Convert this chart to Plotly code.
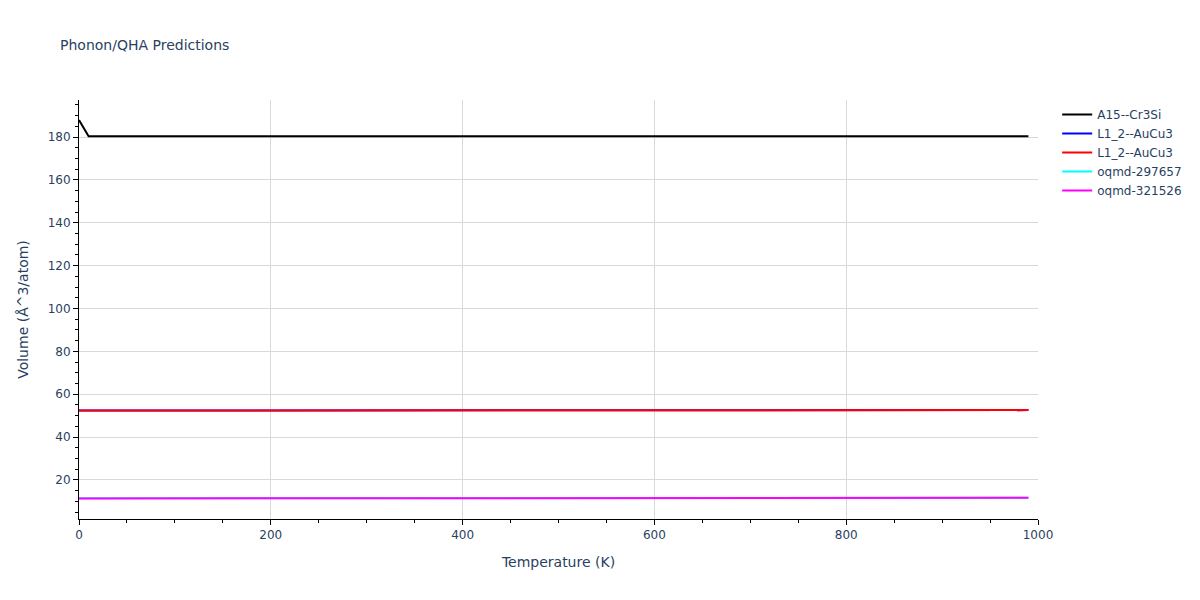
import plotly.graph_objects as go

temperatures = [0, 10, 100, 200, 300, 400, 500, 600, 700, 800, 900, 990]
vol_a15_cr3si = [188.0, 180.4, 180.4, 180.4, 180.4, 180.4, 180.4, 180.4, 180.4, 180.4, 180.4, 180.4]
vol_l12_aucu3_a = [52.4, 52.4, 52.4, 52.4, 52.4, 52.4, 52.5, 52.5, 52.5, 52.5, 52.6, 52.6]
vol_l12_aucu3_b = [52.4, 52.4, 52.4, 52.4, 52.4, 52.4, 52.5, 52.5, 52.5, 52.5, 52.6, 52.6]
vol_oqmd_297657 = [11.5, 11.5, 11.5, 11.5, 11.6, 11.6, 11.6, 11.6, 11.7, 11.7, 11.7, 11.7]
vol_oqmd_321526 = [11.4, 11.4, 11.4, 11.5, 11.5, 11.5, 11.5, 11.6, 11.6, 11.6, 11.6, 11.7]

series = [
    ("A15--Cr3Si", vol_a15_cr3si, "black"),
    ("L1_2--AuCu3", vol_l12_aucu3_a, "blue"),
    ("L1_2--AuCu3", vol_l12_aucu3_b, "red"),
    ("oqmd-297657", vol_oqmd_297657, "cyan"),
    ("oqmd-321526", vol_oqmd_321526, "magenta"),
]

fig = go.Figure()
for name, vals, color in series:
    fig.add_trace(go.Scatter(x=temperatures, y=vals, mode="lines", name=name,
                             line=dict(color=color, width=2)))

def axis(title, rng, dtick, minor_dtick):
    return dict(
        title=dict(text=title, font=dict(size=14)), range=rng, dtick=dtick,
        showline=True, linecolor="black", linewidth=1,
        ticks="outside", tickcolor="black", ticklen=5,
        gridcolor="#d9d9d9", zeroline=False,
        minor=dict(ticks="outside", ticklen=3, tickcolor="black", dtick=minor_dtick, showgrid=False),
    )

fig.update_layout(
    title=dict(text="Phonon/QHA Predictions", x=0.05, font=dict(size=14)),
    width=1200, height=600,
    plot_bgcolor="white", paper_bgcolor="white",
    margin=dict(l=79, r=162, t=100, b=81),
    font=dict(family="Verdana, DejaVu Sans", size=12),
    xaxis=axis("Temperature (K)", [0, 1000], 200, 50),
    yaxis=axis("Volume (Å^3/atom)", [1.8, 197.3], 20, 5),
    legend=dict(x=1.02, y=1, xanchor="left", yanchor="top"),
)

fig.write_html("out.html", config={"displayModeBar": False},
               post_script="document.body.style.margin='0';")
